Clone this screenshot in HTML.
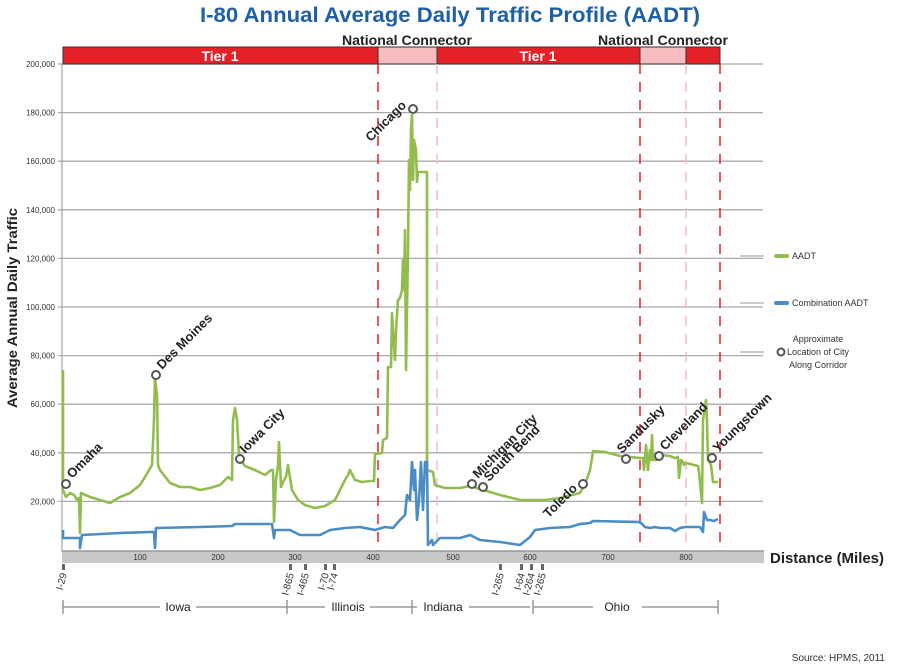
<!DOCTYPE html>
<html><head><meta charset="utf-8"><style>
body{margin:0;background:#fff}
svg{display:block;font-family:"Liberation Sans",sans-serif}
</style></head><body>
<svg width="900" height="666" viewBox="0 0 900 666" xmlns="http://www.w3.org/2000/svg">
<text x="450" y="22" text-anchor="middle" font-size="21" font-weight="bold" fill="#1f5fa6" textLength="500" lengthAdjust="spacingAndGlyphs">I-80 Annual Average Daily Traffic Profile (AADT)</text>
<!-- grid -->
<g stroke="#aaa" stroke-width="1.3">
<line x1="58" y1="64" x2="763" y2="64"/>
<line x1="58" y1="112.6" x2="763" y2="112.6"/>
<line x1="58" y1="161.2" x2="763" y2="161.2"/>
<line x1="58" y1="209.8" x2="763" y2="209.8"/>
<line x1="58" y1="258.4" x2="763" y2="258.4"/>
<line x1="58" y1="307" x2="763" y2="307"/>
<line x1="58" y1="355.6" x2="763" y2="355.6"/>
<line x1="58" y1="404.2" x2="763" y2="404.2"/>
<line x1="58" y1="452.8" x2="763" y2="452.8"/>
<line x1="58" y1="501.4" x2="763" y2="501.4"/>
<line x1="62" y1="64" x2="62" y2="552"/>
<line x1="740" y1="256" x2="764" y2="256"/>
<line x1="740" y1="303" x2="764" y2="303"/>
<line x1="740" y1="352" x2="764" y2="352"/>
</g>
<g font-size="8" fill="#333" text-anchor="end">
<text x="55" y="67">200,000</text><text x="55" y="115.6">180,000</text><text x="55" y="164.2">160,000</text><text x="55" y="212.8">140,000</text><text x="55" y="261.4">120,000</text><text x="55" y="310">100,000</text><text x="55" y="358.6">80,000</text><text x="55" y="407.2">60,000</text><text x="55" y="455.8">40,000</text><text x="55" y="504.4">20,000</text>
</g>
<text transform="translate(17,308) rotate(-90)" text-anchor="middle" font-size="14" font-weight="bold" fill="#222" textLength="200" lengthAdjust="spacingAndGlyphs">Average Annual Daily Traffic</text>
<!-- top bars -->
<rect x="63" y="47" width="315" height="17" fill="#e42127" stroke="#333"/>
<rect x="378" y="47" width="59" height="17" fill="#f6bcc0" stroke="#333"/>
<rect x="437" y="47" width="203" height="17" fill="#e42127" stroke="#333"/>
<rect x="640" y="47" width="46" height="17" fill="#f6bcc0" stroke="#333"/>
<rect x="686" y="47" width="34" height="17" fill="#e42127" stroke="#333"/>
<text x="220" y="61" text-anchor="middle" font-size="14" font-weight="bold" fill="#fff">Tier 1</text>
<text x="538" y="61" text-anchor="middle" font-size="14" font-weight="bold" fill="#fff">Tier 1</text>
<text x="407" y="45" text-anchor="middle" font-size="14" font-weight="bold" fill="#222" textLength="130" lengthAdjust="spacingAndGlyphs">National Connector</text>
<text x="663" y="45" text-anchor="middle" font-size="14" font-weight="bold" fill="#222" textLength="130" lengthAdjust="spacingAndGlyphs">National Connector</text>
<g stroke-dasharray="10,8" stroke-width="1.5">
<line x1="378" y1="64" x2="378" y2="551" stroke="#e42127"/>
<line x1="437" y1="64" x2="437" y2="551" stroke="#f6bcc0"/>
<line x1="640" y1="64" x2="640" y2="551" stroke="#e42127"/>
<line x1="686" y1="64" x2="686" y2="551" stroke="#f6bcc0"/>
<line x1="720" y1="64" x2="720" y2="551" stroke="#e42127"/>
</g>
<!-- x axis band -->
<rect x="62" y="551" width="702" height="12" fill="#c8c8c8"/>
<line x1="62" y1="551" x2="764" y2="551" stroke="#999" stroke-width="1.5"/>
<g font-size="8" fill="#333" text-anchor="middle">
<text x="140" y="560">100</text><text x="218" y="560">200</text><text x="295" y="560">300</text><text x="373" y="560">400</text><text x="453" y="560">500</text><text x="530" y="560">600</text><text x="608" y="560">700</text><text x="686" y="560">800</text>
</g>
<text x="770" y="563" font-size="15" font-weight="bold" fill="#222" textLength="114" lengthAdjust="spacingAndGlyphs">Distance (Miles)</text>
<!-- series -->
<polyline fill="none" stroke="#92bd4e" stroke-width="2.6" stroke-linejoin="round" points="63,370 63,490 66,497 70,493 74,495 77,500 79,498 80,533 81,493 90,497 100,500 110,503 120,497 130,493 140,485 148,472 152,465 154,420 155,378 157,395 158,465 160,470 170,483 180,487 190,487 200,490 210,488 220,485 228,477 232,480 233,420 235,408 237,420 239,455 242,462 245,466 255,470 265,475 271,470 273,470 274,522 276,480 278,465 279,442 281,487 284,480 286,477 288,465 292,490 298,500 305,505 315,508 325,506 335,500 340,490 345,480 348,475 350,470 355,480 362,482 370,481 374,481 375,454 382,453 383,440 387,438 388,367 391,367 392,313 393,330 395,360 396,330 398,300 400,298 402,290 403,260 404,290 405,230 406,370 408,250 409,160 410,190 411,130 412,115 413,180 414,140 416,150 417,182 418,172 420,172 427,172 427,470 433,472 435,485 445,488 460,488 470,486 480,489 490,492 500,495 520,500 545,500 560,498 580,493 585,484 590,470 592,458 593,451 605,452 620,456 640,458 643,458 644,470 646,445 648,470 650,450 651,460 652,435 653,460 656,460 660,455 670,456 675,458 678,457 679,478 681,460 683,462 684,465 686,463 690,464 698,466 699,472 702,503 703,420 706,400 707,420 708,460 711,465 713,482 718,482"/>
<polyline fill="none" stroke="#4a8cc4" stroke-width="2.6" stroke-linejoin="round" points="63,530 63,538 80,538 80,548 82,535 120,533 150,532 154,532 155,548 156,528 200,527 232,526 235,524 272,524 274,538 275,530 290,530 300,535 320,535 330,530 345,528 360,527 375,530 385,527 393,528 400,520 405,515 407,495 410,500 412,462 414,490 415,470 417,520 419,500 421,462 423,510 425,462 427,462 428,545 432,540 433,545 440,538 460,538 470,535 480,540 500,542 520,545 530,537 535,530 550,528 570,527 580,524 590,523 593,521 640,522 645,527 650,528 655,527 660,528 670,528 675,531 680,528 685,527 700,527 703,532 704,512 707,520 710,520 714,521 718,519"/>
<!-- city markers -->
<g fill="#fff" stroke="#555" stroke-width="2">
<circle cx="66" cy="484" r="4"/><circle cx="156" cy="375" r="4"/><circle cx="240" cy="459" r="4"/><circle cx="413" cy="109" r="4"/><circle cx="472" cy="484" r="4"/><circle cx="483" cy="487" r="4"/><circle cx="583" cy="484" r="4"/><circle cx="626" cy="459" r="4"/><circle cx="659" cy="456" r="4"/><circle cx="712" cy="458" r="4"/>
</g>
<g font-size="13" font-weight="bold" fill="#222">
<text transform="translate(72,479) rotate(-45)">Omaha</text>
<text transform="translate(162,370) rotate(-45)">Des Moines</text>
<text transform="translate(245,454) rotate(-45)">Iowa City</text>
<text transform="translate(407,106) rotate(-45)" text-anchor="end">Chicago</text>
<text transform="translate(478,479) rotate(-45)">Michigan City</text>
<text transform="translate(489,482) rotate(-45)">South Bend</text>
<text transform="translate(578,489) rotate(-45)" text-anchor="end">Toledo</text>
<text transform="translate(622,454) rotate(-45)">Sandusky</text>
<text transform="translate(665,451) rotate(-45)">Cleveland</text>
<text transform="translate(718,453) rotate(-45)">Youngstown</text>
</g>
<!-- legend -->
<line x1="776" y1="256" x2="787" y2="256" stroke="#92bd4e" stroke-width="4" stroke-linecap="round"/>
<line x1="776" y1="303" x2="787" y2="303" stroke="#4a8cc4" stroke-width="4" stroke-linecap="round"/>
<circle cx="781" cy="352" r="3.5" fill="#fff" stroke="#555" stroke-width="2"/>
<g font-size="9" fill="#333">
<text x="792" y="259">AADT</text>
<text x="792" y="306">Combination AADT</text>
<text x="818" y="342" text-anchor="middle">Approximate</text>
<text x="818" y="355" text-anchor="middle">Location of City</text>
<text x="818" y="368" text-anchor="middle">Along Corridor</text>
</g>
<!-- interchanges -->
<g fill="#666">
<rect x="62" y="564" width="3" height="6"/><rect x="289" y="564" width="3" height="6"/><rect x="304" y="564" width="3" height="6"/><rect x="324" y="564" width="3" height="6"/><rect x="333" y="564" width="3" height="6"/>
<rect x="499" y="564" width="3" height="6"/><rect x="520" y="564" width="3" height="6"/><rect x="530" y="564" width="3" height="6"/><rect x="541" y="564" width="3" height="6"/>
</g>
<g font-size="10" fill="#333" text-anchor="end">
<text transform="translate(67,574) rotate(-75)">I-29</text>
<text transform="translate(294,574) rotate(-75)">I-865</text>
<text transform="translate(309,574) rotate(-75)">I-465</text>
<text transform="translate(329,574) rotate(-75)">I-70</text>
<text transform="translate(338,574) rotate(-75)">I-74</text>
<text transform="translate(504,574) rotate(-75)">I-265</text>
<text transform="translate(525,574) rotate(-75)">I-64</text>
<text transform="translate(535,574) rotate(-75)">I-264</text>
<text transform="translate(546,574) rotate(-75)">I-265</text>
</g>
<!-- states -->
<g stroke="#999" stroke-width="1.5">
<line x1="63" y1="607" x2="160" y2="607"/><line x1="196" y1="607" x2="287" y2="607"/>
<line x1="287" y1="607" x2="325" y2="607"/><line x1="370" y1="607" x2="530" y2="607"/>
<line x1="63" y1="600" x2="63" y2="614"/><line x1="287" y1="600" x2="287" y2="614"/><line x1="412" y1="600" x2="412" y2="614"/><line x1="533" y1="600" x2="533" y2="614"/><line x1="718" y1="600" x2="718" y2="614"/>
<line x1="533" y1="607" x2="593" y2="607"/><line x1="642" y1="607" x2="718" y2="607"/>
</g>
<rect x="412" y="600" width="0" height="0"/>
<g font-size="12" fill="#222" text-anchor="middle">
<rect x="161" y="600" width="34" height="14" fill="#fff"/><text x="178" y="611">Iowa</text>
<rect x="325" y="600" width="45" height="14" fill="#fff"/><text x="348" y="611">Illinois</text>
<rect x="417" y="600" width="52" height="14" fill="#fff"/><text x="443" y="611">Indiana</text>
<rect x="593" y="600" width="48" height="14" fill="#fff"/><text x="617" y="611">Ohio</text>
</g>
<text x="885" y="661" text-anchor="end" font-size="10" fill="#333">Source: HPMS, 2011</text>
</svg>
</body></html>
